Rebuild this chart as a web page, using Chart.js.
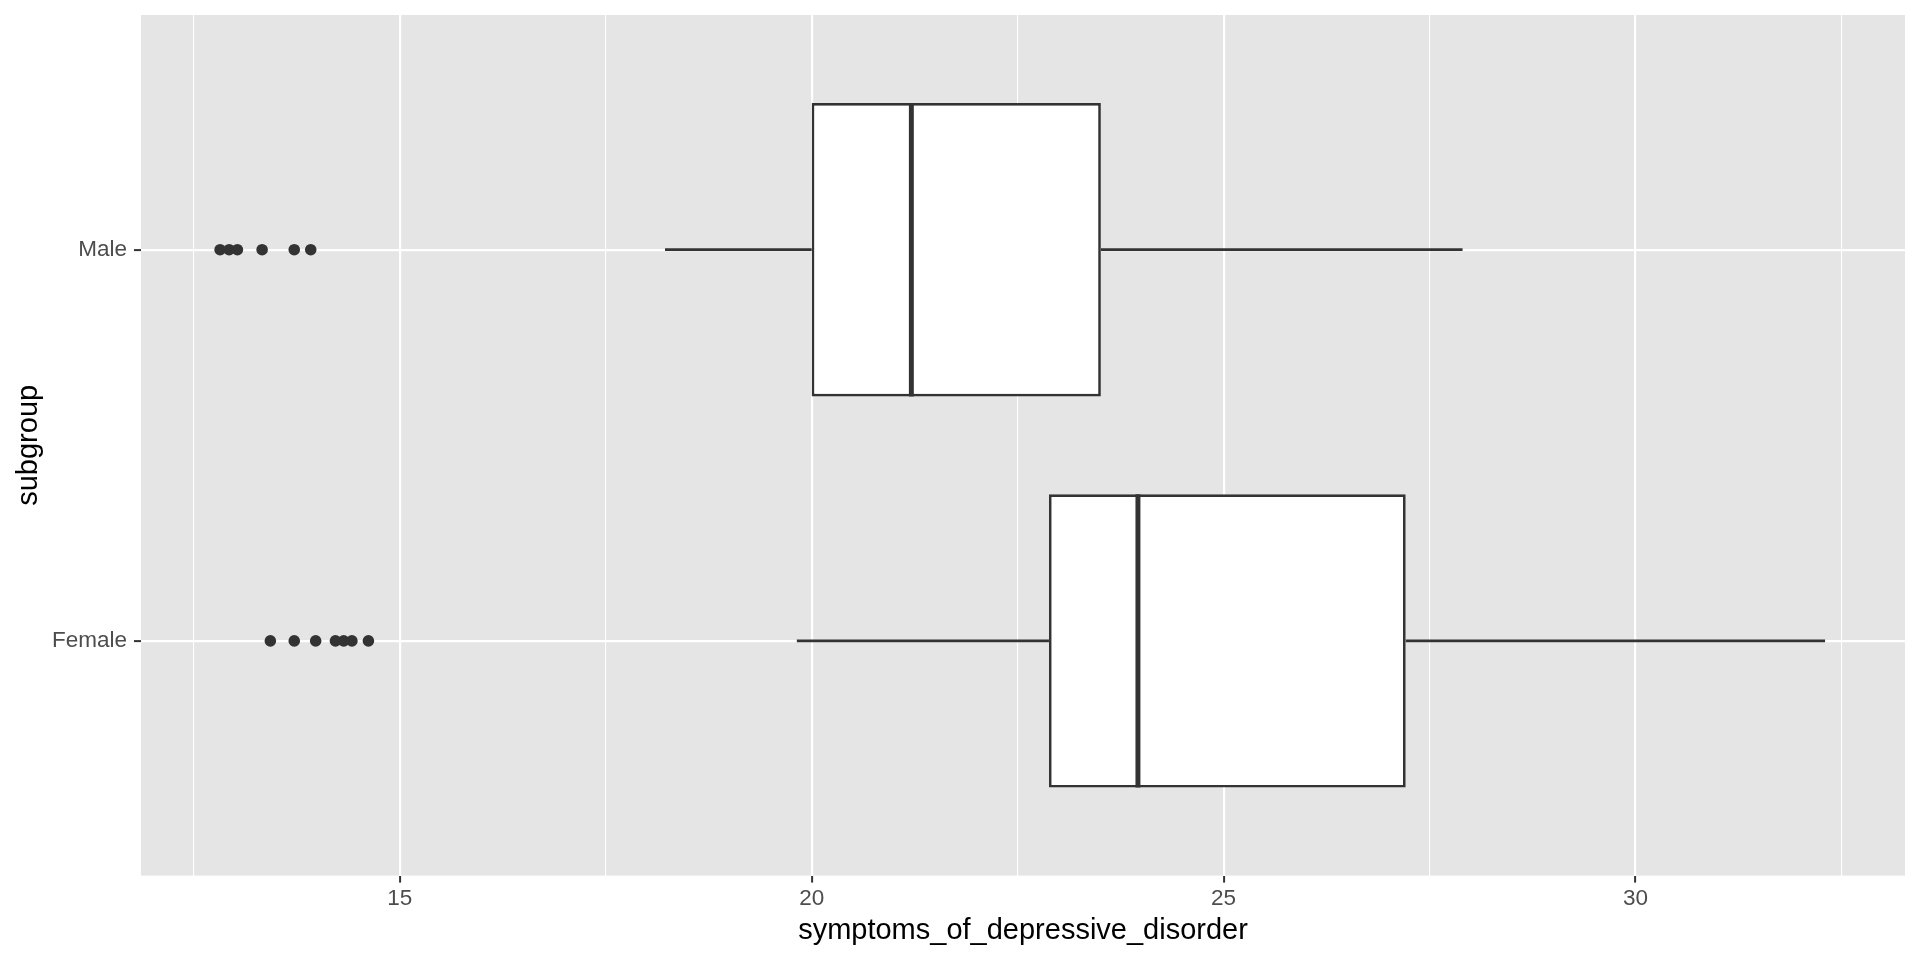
<!DOCTYPE html>
<html>
<head>
<meta charset="utf-8">
<script src="https://cdn.jsdelivr.net/npm/chart.js@4/dist/chart.umd.min.js"></script>
<style>
  html, body { margin: 0; padding: 0; background: #ffffff; }
  #wrap { width: 1920px; height: 960px; }
</style>
</head>
<body>
<div id="wrap"><canvas id="chart" width="1920" height="960"></canvas></div>
<script>
// values
const groups = ['Male', 'Female'];
const groupPos = [2, 1];
const lowerWhisker = [18.22, 19.82];
const q1 = [20.0, 22.88];
const median = [21.21, 23.96];
const q3 = [23.51, 27.21];
const upperWhisker = [27.9, 32.3];
const outliers = [
    [12.82, 12.93, 13.03, 13.33, 13.72, 13.92],
    [13.43, 13.72, 13.98, 14.22, 14.32, 14.42, 14.62]
];
const xMajorTicks = [15, 20, 25, 30];
const xMinorTicks = [12.5, 17.5, 22.5, 27.5, 32.5];

const dark = '#333333';
const fontFamily = '"Liberation Sans", Arial, Helvetica, sans-serif';

const panelBg = {
    id: 'panelBg',
    beforeDraw(chart) {
        const a = chart.chartArea;
        const c = chart.ctx;
        c.save();
        c.fillStyle = '#E5E5E5';
        c.fillRect(a.left, a.top, a.right - a.left, a.bottom - a.top);
        c.restore();
    }
};

function isMajor(v) {
    return xMajorTicks.indexOf(v) !== -1;
}

function buildDatasets() {
    const sets = [];
    sets.push({
        type: 'bar',
        order: 3,
        data: groups.map((g, i) => ({ y: groupPos[i], x: [q1[i], q3[i]] })),
        backgroundColor: '#ffffff',
        borderColor: dark,
        borderWidth: 2.7,
        borderSkipped: false,
        grouped: false,
        categoryPercentage: 1,
        barPercentage: 0.75
    });
    // median as a thin bar on top of the box
    sets.push({
        type: 'bar',
        order: 1,
        data: groups.map((g, i) => ({ y: groupPos[i], x: [median[i] - 0.03, median[i] + 0.03] })),
        backgroundColor: dark,
        borderWidth: 0,
        grouped: false,
        categoryPercentage: 1,
        barPercentage: 0.75
    });
    groups.forEach((g, i) => {
        sets.push({
            type: 'scatter',
            order: 2,
            showLine: true,
            data: [{ x: lowerWhisker[i], y: groupPos[i] }, { x: q1[i], y: groupPos[i] }],
            borderColor: dark,
            borderWidth: 2.7,
            pointRadius: 0
        });
        sets.push({
            type: 'scatter',
            order: 2,
            showLine: true,
            data: [{ x: q3[i], y: groupPos[i] }, { x: upperWhisker[i], y: groupPos[i] }],
            borderColor: dark,
            borderWidth: 2.7,
            pointRadius: 0
        });
        sets.push({
            type: 'scatter',
            order: 0,
            data: outliers[i].map(v => ({ x: v, y: groupPos[i] })),
            backgroundColor: dark,
            borderWidth: 0,
            pointRadius: 5.8
        });
    });
    return sets;
}

function renderChart() {
    const ctx = document.getElementById('chart').getContext('2d');
    new Chart(ctx, {
        data: { datasets: buildDatasets() },
        options: {
            indexAxis: 'y',
            responsive: false,
            animation: false,
            layout: { padding: { left: 0, top: 15, right: 15, bottom: 0 } },
            plugins: { legend: { display: false }, tooltip: { enabled: false } },
            scales: {
                x: {
                    type: 'linear',
                    position: 'bottom',
                    min: 11.86,
                    max: 33.27,
                    offset: false,
                    afterBuildTicks(scale) {
                        scale.ticks = xMinorTicks.concat(xMajorTicks).sort((a, b) => a - b).map(v => ({ value: v }));
                    },
                    afterFit(scale) {
                        scale.height = 84.4;
                        scale.paddingLeft = 0;
                        scale.paddingRight = 0;
                    },
                    border: { display: false },
                    grid: {
                        offset: false,
                        color: '#ffffff',
                        lineWidth: c => isMajor(c.tick.value) ? 2.2 : 1.1,
                        tickColor: c => isMajor(c.tick.value) ? dark : 'rgba(0,0,0,0)',
                        tickWidth: 2,
                        tickLength: 7
                    },
                    ticks: {
                        autoSkip: false,
                        maxRotation: 0,
                        padding: 3,
                        color: '#4D4D4D',
                        font: { family: fontFamily, size: 22.5 },
                        callback: v => isMajor(v) ? String(v) : ''
                    },
                    title: {
                        display: true,
                        text: 'symptoms_of_depressive_disorder',
                        color: '#000000',
                        font: { family: fontFamily, size: 29 },
                        padding: { top: 0, bottom: 12 }
                    }
                },
                y: {
                    type: 'linear',
                    min: 0.4,
                    max: 2.6,
                    offset: false,
                    afterBuildTicks(scale) {
                        scale.ticks = groupPos.slice().sort((a, b) => a - b).map(v => ({ value: v }));
                    },
                    afterFit(scale) {
                        scale.width = 141;
                        scale.paddingTop = 0;
                        scale.paddingBottom = 0;
                    },
                    border: { display: false },
                    grid: {
                        offset: false,
                        color: '#ffffff',
                        lineWidth: 2.2,
                        tickColor: dark,
                        tickWidth: 2,
                        tickLength: 7
                    },
                    ticks: {
                        autoSkip: false,
                        padding: 7,
                        color: '#4D4D4D',
                        font: { family: fontFamily, size: 22.5 },
                        callback: v => groups[groupPos.indexOf(v)] || ''
                    },
                    title: {
                        display: true,
                        text: 'subgroup',
                        color: '#000000',
                        font: { family: fontFamily, size: 29 },
                        padding: { top: 11.6, bottom: 0 }
                    }
                }
            }
        },
        plugins: [panelBg]
    });
}
renderChart();
</script>
</body>
</html>
